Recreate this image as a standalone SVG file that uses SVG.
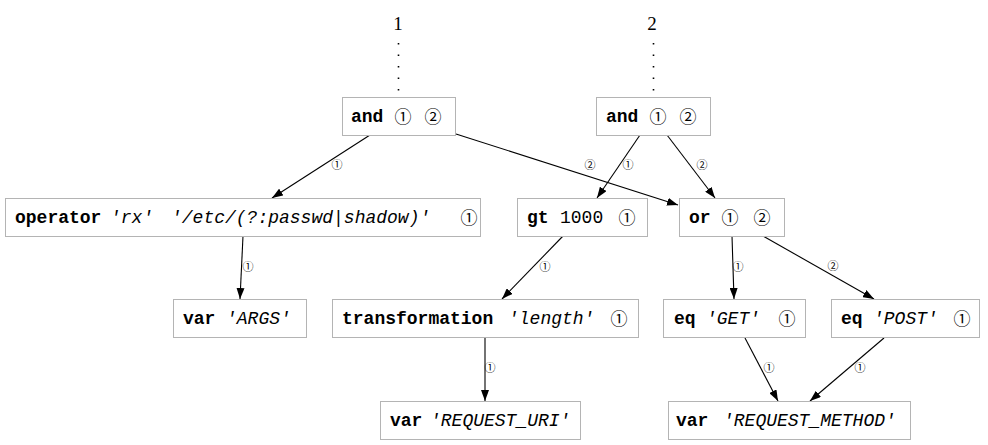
<svg xmlns="http://www.w3.org/2000/svg" width="988" height="445" viewBox="0 0 988 445">
<style>
.box{fill:#fff;stroke:#b4b4b4;stroke-width:1}
.m{font-family:"Liberation Mono","Courier New",monospace;font-size:18px;fill:#000}
.b{font-weight:bold}
.i{font-style:italic}
.c{font-family:"Noto Sans CJK JP","DejaVu Sans",sans-serif;font-size:17px;text-anchor:middle;fill:#000}
.el{font-family:"Noto Sans CJK JP","DejaVu Sans",sans-serif;font-size:11px;text-anchor:middle;fill:#000}
.top{font-family:"Liberation Serif","Times New Roman",serif;font-size:19px;text-anchor:middle;fill:#000}
.e{stroke:#000;stroke-width:1.1;fill:none;marker-end:url(#arr)}
.dot{stroke:#000;stroke-width:1.6;stroke-dasharray:1.6 9.9;fill:none}
</style>
<defs>
<marker id="arr" markerUnits="userSpaceOnUse" markerWidth="11" markerHeight="8" refX="11" refY="4" orient="auto">
<path d="M0,0 L11,4 L0,8 z" fill="#000"/>
</marker>
</defs>
<g id="roots">
<text class="top" x="398" y="30">1</text>
<text class="top" x="652" y="30">2</text>
<line class="dot" x1="398.5" y1="43" x2="398.5" y2="93"/>
<line class="dot" x1="653.5" y1="43" x2="653.5" y2="93"/>
</g>
<g id="connectors">
<line class="e" x1="370" y1="135" x2="272" y2="198"/>
<line class="e" x1="456" y1="134" x2="678" y2="205"/>
<line class="e" x1="640" y1="135" x2="597" y2="198"/>
<line class="e" x1="667" y1="135" x2="715" y2="198"/>
<line class="e" x1="243" y1="236" x2="240" y2="299"/>
<line class="e" x1="563" y1="236" x2="502" y2="299"/>
<line class="e" x1="485" y1="338" x2="485" y2="401"/>
<line class="e" x1="732" y1="236" x2="734" y2="299"/>
<line class="e" x1="763" y1="236" x2="874" y2="299"/>
<line class="e" x1="745" y1="338" x2="778" y2="401"/>
<line class="e" x1="884" y1="338" x2="810" y2="401"/>
<text class="el" x="337" y="169">①</text>
<text class="el" x="590" y="169">②</text>
<text class="el" x="628" y="169">①</text>
<text class="el" x="702" y="169">②</text>
<text class="el" x="248" y="271">①</text>
<text class="el" x="545" y="271">①</text>
<text class="el" x="490" y="372">①</text>
<text class="el" x="738" y="271">①</text>
<text class="el" x="833" y="270">②</text>
<text class="el" x="769" y="372">①</text>
<text class="el" x="860" y="372">①</text>
</g>
<g id="and1">
<rect class="box" x="342.5" y="97.5" width="113" height="38"/>
<text class="m b" x="351" y="122">and</text>
<text class="c" x="403" y="123">①</text>
<text class="c" x="433" y="123">②</text>
</g>
<g id="and2">
<rect class="box" x="596.5" y="97.5" width="114" height="38"/>
<text class="m b" x="606" y="122">and</text>
<text class="c" x="658" y="123">①</text>
<text class="c" x="688" y="123">②</text>
</g>
<g id="operator">
<rect class="box" x="5.5" y="198.5" width="475" height="38"/>
<text class="m b" x="15" y="223">operator</text>
<text class="m i" x="110" y="223">'rx'</text>
<text class="m i" x="171" y="223">'/etc/(?:passwd|shadow)'</text>
<text class="c" x="469" y="224">①</text>
</g>
<g id="gt">
<rect class="box" x="517.5" y="198.5" width="130" height="38"/>
<text class="m b" x="527" y="223">gt</text>
<text class="m" x="560" y="223">1000</text>
<text class="c" x="627" y="224">①</text>
</g>
<g id="or">
<rect class="box" x="679.5" y="198.5" width="105" height="38"/>
<text class="m b" x="689" y="223">or</text>
<text class="c" x="730" y="224">①</text>
<text class="c" x="762" y="224">②</text>
</g>
<g id="varARGS">
<rect class="box" x="173.5" y="299.5" width="133" height="38"/>
<text class="m b" x="183" y="324">var</text>
<text class="m i" x="226" y="324">'ARGS'</text>
</g>
<g id="transformation">
<rect class="box" x="332.5" y="299.5" width="306" height="38"/>
<text class="m b" x="342" y="324">transformation</text>
<text class="m i" x="508" y="324">'length'</text>
<text class="c" x="619" y="325">①</text>
</g>
<g id="varURI">
<rect class="box" x="380.5" y="401.5" width="200" height="38"/>
<text class="m b" x="390" y="426">var</text>
<text class="m i" x="430" y="426">'REQUEST_URI'</text>
</g>
<g id="eqGET">
<rect class="box" x="663.5" y="299.5" width="142" height="38"/>
<text class="m b" x="674" y="324">eq</text>
<text class="m i" x="706" y="324">'GET'</text>
<text class="c" x="787" y="325">①</text>
</g>
<g id="eqPOST">
<rect class="box" x="831.5" y="299.5" width="148" height="38"/>
<text class="m b" x="841" y="324">eq</text>
<text class="m i" x="873" y="324">'POST'</text>
<text class="c" x="962" y="325">①</text>
</g>
<g id="varMETHOD">
<rect class="box" x="668.5" y="401.5" width="242" height="38"/>
<text class="m b" x="676" y="426">var</text>
<text class="m i" x="723" y="426">'REQUEST_METHOD'</text>
</g>
</svg>
